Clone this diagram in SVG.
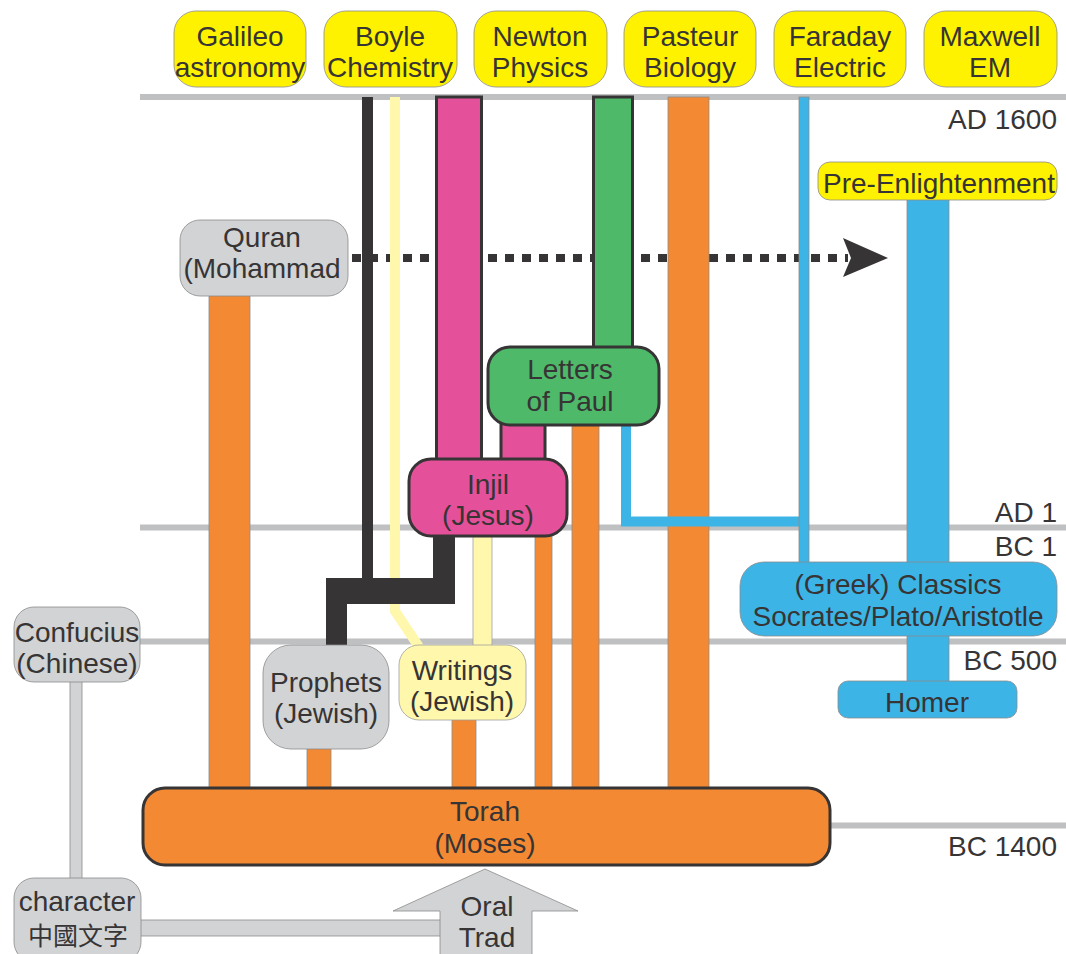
<svg xmlns="http://www.w3.org/2000/svg" width="1066" height="954" viewBox="0 0 1066 954">
<style>
text{font-family:"Liberation Sans",Arial,sans-serif;font-size:28px;fill:#373435;text-anchor:middle}
.r{text-anchor:end}
.tl{fill:none;stroke:#bfc0c2;stroke-width:6}
.yel{fill:#fff200;stroke:#8c8c8c;stroke-width:0.8}
.gry{fill:#d1d3d4;stroke:#8c8c8c;stroke-width:0.8}
.pale{fill:#fff8ac;stroke:#a0a0a0;stroke-width:0.8}
.blu{fill:#3db4e6;stroke:#8c8c8c;stroke-width:0.8}
.org{fill:#f38932;stroke:#8c8c8c;stroke-width:0.8}
.orgB{fill:#f38932;stroke:#373435;stroke-width:3}
.pnk{fill:#e5509b;stroke:#373435;stroke-width:3}
.grn{fill:#4fb96a;stroke:#373435;stroke-width:3}
.blk{fill:#373435}
</style>
<g id="timeline">
<line class="tl" x1="140" y1="97" x2="1066" y2="97"/>
<line class="tl" x1="140" y1="527.5" x2="1066" y2="527.5"/>
<line class="tl" x1="132" y1="641.5" x2="1066" y2="641.5"/>
<line class="tl" x1="700" y1="825.5" x2="1066" y2="825.5"/>
<text class="r" x="1057" y="129">AD 1600</text>
<text class="r" x="1057" y="522">AD 1</text>
<text class="r" x="1057" y="556">BC 1</text>
<text class="r" x="1057" y="670">BC 500</text>
<text class="r" x="1057" y="856">BC 1400</text>
</g>
<g id="connectors">
<line x1="352" y1="258" x2="848" y2="258" stroke="#373435" stroke-width="8" stroke-dasharray="9 8"/>
<polygon class="blk" points="843,238 888,258 843,277 851,258"/>
<rect class="org" x="209" y="294" width="41" height="496"/>
<rect class="blk" x="362" y="97" width="11" height="484"/>
<polyline points="395,97 395,611 419,647" fill="none" stroke="#fff8ac" stroke-width="10"/>
<polygon class="blk" points="433,535 455,535 455,604 347,604 347,648 326,648 326,578 433,578"/>
<rect class="pnk" x="436.5" y="97" width="45" height="364"/>
<rect class="pale" x="473" y="535" width="19" height="112"/>
<rect class="pnk" x="501" y="423" width="44" height="38"/>
<rect class="org" x="535" y="535" width="17" height="255"/>
<rect class="grn" x="593.5" y="97" width="39" height="252"/>
<rect class="org" x="572" y="423" width="27" height="367"/>
<rect class="org" x="668" y="97" width="41" height="693"/>
<path d="M626,423 V521.5 H804" fill="none" stroke="#3db4e6" stroke-width="10"/>
<rect class="blu" x="799" y="97" width="10" height="466"/>
<rect class="blu" x="907" y="196" width="42" height="487"/>
<rect class="org" x="307" y="745" width="24" height="45"/>
<rect class="org" x="452" y="716" width="24" height="74"/>
<rect class="gry" x="70" y="680" width="12" height="200"/>
<rect class="gry" x="139" y="920" width="303" height="16"/>
</g>
<g id="galileo"><rect class="yel" x="174" y="11" width="132" height="76" rx="22"/><text x="240" y="46">Galileo</text><text x="240" y="77">astronomy</text></g>
<g id="boyle"><rect class="yel" x="324" y="11" width="133" height="76" rx="22"/><text x="390" y="46">Boyle</text><text x="390" y="77">Chemistry</text></g>
<g id="newton"><rect class="yel" x="474" y="11" width="133" height="76" rx="22"/><text x="540" y="46">Newton</text><text x="540" y="77">Physics</text></g>
<g id="pasteur"><rect class="yel" x="624" y="11" width="132" height="76" rx="22"/><text x="690" y="46">Pasteur</text><text x="690" y="77">Biology</text></g>
<g id="faraday"><rect class="yel" x="774" y="11" width="132" height="76" rx="22"/><text x="840" y="46">Faraday</text><text x="840" y="77">Electric</text></g>
<g id="maxwell"><rect class="yel" x="924" y="11" width="133" height="76" rx="22"/><text x="990" y="46">Maxwell</text><text x="990" y="77">EM</text></g>
<g id="pre-enlightenment"><rect class="yel" x="818" y="162" width="239" height="38" rx="12"/><text x="939" y="193">Pre-Enlightenment</text></g>
<g id="quran"><rect class="gry" x="180" y="220" width="168" height="76" rx="20"/><text x="262" y="247">Quran</text><text x="262" y="278">(Mohammad</text></g>
<g id="letters"><rect class="grn" x="488" y="347" width="171" height="78" rx="22"/><text x="570" y="379">Letters</text><text x="570" y="411">of Paul</text></g>
<g id="injil"><rect class="pnk" x="409" y="459" width="158" height="77" rx="22"/><text x="488" y="494">Injil</text><text x="488" y="525">(Jesus)</text></g>
<g id="greek"><rect class="blu" x="740" y="562" width="317" height="74" rx="24"/><text x="898" y="594">(Greek) Classics</text><text x="898" y="626">Socrates/Plato/Aristotle</text></g>
<g id="confucius"><rect class="gry" x="14" y="607" width="126" height="75" rx="20"/><text x="77" y="642">Confucius</text><text x="77" y="673">(Chinese)</text></g>
<g id="prophets"><rect class="gry" x="263" y="645" width="126" height="104" rx="28"/><text x="326" y="692">Prophets</text><text x="326" y="723">(Jewish)</text></g>
<g id="writings"><rect class="pale" x="399" y="645" width="127" height="75" rx="20"/><text x="462" y="680">Writings</text><text x="462" y="711">(Jewish)</text></g>
<g id="homer"><rect class="blu" x="838" y="681" width="179" height="37" rx="10"/><text x="927" y="712">Homer</text></g>
<g id="torah"><rect class="orgB" x="143" y="788" width="687" height="77" rx="22"/><text x="485" y="821">Torah</text><text x="485" y="853">(Moses)</text></g>
<g id="character"><rect class="gry" x="14" y="878" width="127" height="84" rx="20"/><text x="77" y="911">character</text><text x="78" y="945" style="font-family:'Noto Sans CJK TC','Noto Sans CJK SC',sans-serif;font-size:25px">中國文字</text></g>
<g id="oral-trad"><polygon class="gry" points="485,869 578,911 532,911 532,960 440,960 440,911 393,911"/><text x="487" y="916">Oral</text><text x="487" y="947">Trad</text></g>
</svg>
